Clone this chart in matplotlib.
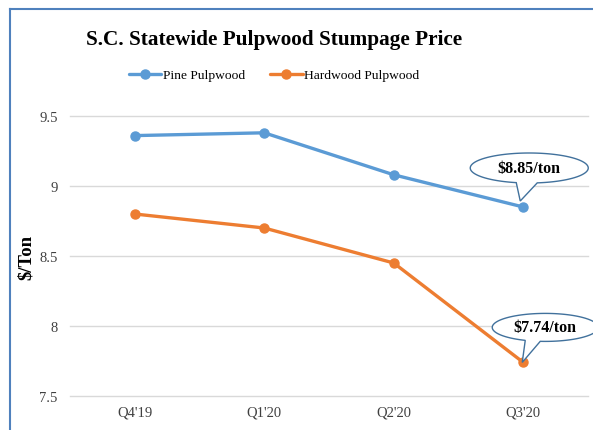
import numpy as np
import matplotlib
matplotlib.use('Agg')
import matplotlib.pyplot as plt
from matplotlib.patches import Polygon
from matplotlib.transforms import ScaledTranslation

# Chart data
quarters = ["Q4'19", "Q1'20", "Q2'20", "Q3'20"]
pine = [9.36, 9.38, 9.08, 8.85]
hardwood = [8.80, 8.70, 8.45, 7.74]
callout_labels = ['$8.85/ton', '$7.74/ton']

plt.rcParams['font.family'] = ['Liberation Serif', 'DejaVu Serif']

fig = plt.figure(figsize=(5.93, 4.31), dpi=100)
ax = fig.add_axes([70 / 593, 1 - 397 / 431, 518 / 593, 280 / 431])

x = np.arange(len(quarters))
ax.plot(x, pine, color='#5b9bd5', lw=2.4, marker='o', ms=6.5, label='Pine Pulpwood',
        solid_capstyle='round', zorder=3)
ax.plot(x, hardwood, color='#ed7d31', lw=2.4, marker='o', ms=6.5, label='Hardwood Pulpwood',
        solid_capstyle='round', zorder=3)

ax.set_xlim(-0.5, len(quarters) - 0.5)
ax.set_ylim(7.5, 9.5)
ax.set_yticks([7.5, 8, 8.5, 9, 9.5])
ax.set_yticklabels(['7.5', '8', '8.5', '9', '9.5'])
ax.set_xticks(x)
ax.set_xticklabels(quarters)
ax.tick_params(length=0, labelsize=10.5, labelcolor='#404040')
ax.tick_params(axis='x', pad=7)
ax.tick_params(axis='y', pad=9)
ax.grid(axis='y', color='#d9d9d9', lw=1)
ax.set_axisbelow(True)
for gl in ax.get_ygridlines():
    gl.set_clip_on(False)
for s in ax.spines.values():
    s.set_visible(False)
ax.set_ylabel('$/Ton', fontsize=13.5, fontweight='bold', labelpad=3)

fig.text(274 / 593, 1 - 40 / 431, 'S.C. Statewide Pulpwood Stumpage Price',
         ha='center', va='center', fontsize=15.3, fontweight='bold')
fig.legend(loc='center', bbox_to_anchor=(274 / 593, 1 - 76 / 431), ncol=2, frameon=False,
           fontsize=9.7, handlelength=2.4, columnspacing=1.9, handletextpad=0.1)

# Chart border (left and top visible)
fig.add_artist(plt.Line2D([10 / 593, 10 / 593], [0, 1 - 10 / 431], color='#4f81bd', lw=1.5,
                          transform=fig.transFigure))
fig.add_artist(plt.Line2D([10 / 593, 1], [1 - 10 / 431, 1 - 10 / 431], color='#4f81bd', lw=1.5,
                          transform=fig.transFigure))


def callout(xd, yd, text, cx, cy, w, h, bl, br, tip):
    # shape in inches relative to the data point
    trans = fig.dpi_scale_trans + ScaledTranslation(xd, yd, ax.transData)
    a, b = w / 2, h / 2
    tl = -np.arccos(np.clip((bl - cx) / a, -1, 1))
    tr = -np.arccos(np.clip((br - cx) / a, -1, 1))
    th = np.linspace(tr, tl + 2 * np.pi, 200)
    pts = np.column_stack([cx + a * np.cos(th), cy + b * np.sin(th)])
    pts = np.vstack([pts, tip])
    ax.add_patch(Polygon(pts, closed=True, facecolor='white', edgecolor='#41719c', lw=1,
                         transform=trans, clip_on=False, zorder=5))
    ax.text(cx, cy, text, transform=trans, ha='center', va='center', fontsize=11.5,
            fontweight='bold', zorder=6, clip_on=False)


callout(x[-1], pine[-1], callout_labels[0], 0.06, 0.39, 1.18, 0.30, -0.07, 0.14, (-0.03, 0.06))
callout(x[-1], hardwood[-1], callout_labels[1], 0.22, 0.35, 1.06, 0.28, 0.02, 0.17, (-0.01, 0.0))

fig.savefig('out.png', dpi=100)
